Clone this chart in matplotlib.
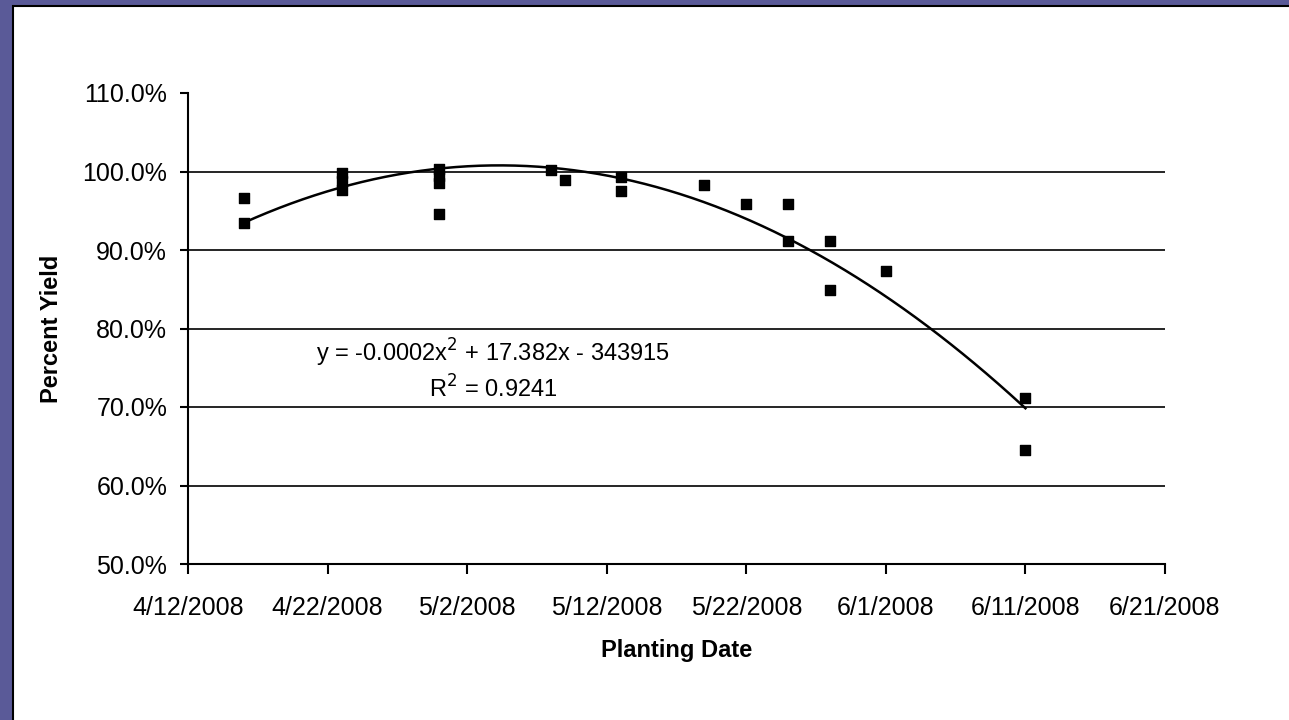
import datetime as dt
import numpy as np
import matplotlib.pyplot as plt
import matplotlib.dates as mdates
from matplotlib.patches import Rectangle
from matplotlib.ticker import FuncFormatter, MultipleLocator

plt.rcParams['font.family'] = ['Liberation Sans', 'DejaVu Sans']

# planting dates and percent yield
plant_dates = ['2008-04-16', '2008-04-16',
               '2008-04-23', '2008-04-23', '2008-04-23',
               '2008-04-30', '2008-04-30', '2008-04-30', '2008-04-30',
               '2008-05-08', '2008-05-09',
               '2008-05-13', '2008-05-13',
               '2008-05-19', '2008-05-22',
               '2008-05-25', '2008-05-25',
               '2008-05-28', '2008-05-28',
               '2008-06-01',
               '2008-06-11', '2008-06-11']
pct_yield = [96.6, 93.4,
             99.8, 98.8, 97.7,
             100.3, 99.4, 98.5, 94.6,
             100.2, 98.9,
             99.3, 97.5,
             98.3, 95.9,
             95.9, 91.2,
             91.2, 84.9,
             87.3,
             71.1, 64.5]

eq_text = 'y = -0.0002x$^2$ + 17.382x - 343915'
r2_text = 'R$^2$ = 0.9241'

x = mdates.date2num([dt.datetime.strptime(d, '%Y-%m-%d') for d in plant_dates])
y = np.array(pct_yield)

fig = plt.figure(figsize=(12.89, 7.2), dpi=100)
fig.patch.set_facecolor('#5a5a98')
# white chart area on the slide
fig.patches.append(Rectangle((13 / 1289, -0.05), 1.1, 1.05 - 6 / 720,
                             transform=fig.transFigure, facecolor='white',
                             edgecolor='black', linewidth=1.5, zorder=-10))

ax = fig.add_axes([188 / 1289, 1 - 564 / 720, (1165 - 188) / 1289, (564 - 93) / 720])
ax.set_facecolor('white')

# 2nd order polynomial trendline
x0 = x.min()
coef = np.polyfit(x - x0, y, 2)
xs = np.linspace(x.min(), x.max(), 200)
ax.plot(xs, np.polyval(coef, xs - x0), color='black', lw=1.8, zorder=3)

ax.scatter(x, y, marker='s', s=45, color='black', zorder=4)

ax.set_ylim(50, 110)
ax.yaxis.set_major_locator(MultipleLocator(10))
ax.yaxis.set_major_formatter(FuncFormatter(lambda v, p: f'{v:.1f}%'))

start = mdates.date2num(dt.datetime(2008, 4, 12))
ax.set_xlim(start, start + 70)
ax.set_xticks([start + 10 * i for i in range(8)])
def fmt_date(v, p):
    d = mdates.num2date(v)
    return f'{d.month}/{d.day}/{d.year}'
ax.xaxis.set_major_formatter(FuncFormatter(fmt_date))

# horizontal gridlines, none at the top of the plot
for v in range(60, 110, 10):
    ax.axhline(v, color='black', lw=1.2, zorder=1)

for s in ['top', 'right']:
    ax.spines[s].set_visible(False)
for s in ['left', 'bottom']:
    ax.spines[s].set_linewidth(1.5)
ax.tick_params(axis='x', length=7, width=1.5, pad=16, labelsize=18)
ax.tick_params(axis='y', length=6, width=1.5, pad=9, labelsize=18)

ax.set_xlabel('Planting Date', fontsize=17, fontweight='bold', labelpad=14)
ax.set_ylabel('Percent Yield', fontsize=17, fontweight='bold', labelpad=14)

ax.text(0.312, 0.448, eq_text, transform=ax.transAxes, ha='center', va='center', fontsize=17)
ax.text(0.312, 0.372, r2_text, transform=ax.transAxes, ha='center', va='center', fontsize=17)

fig.savefig('out.png', dpi=100, facecolor=fig.get_facecolor())
